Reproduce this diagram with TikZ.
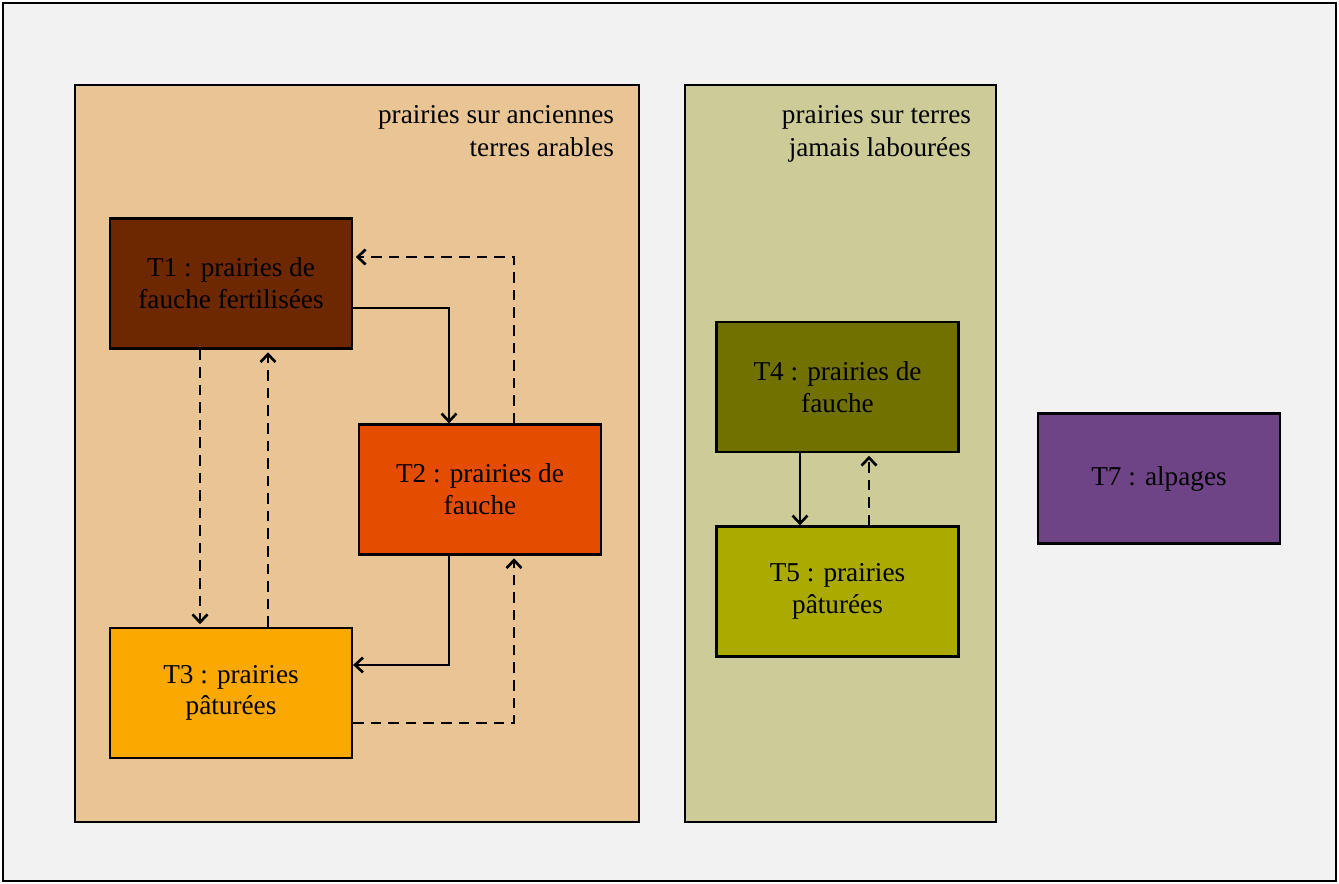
\documentclass[tikz,border=0pt]{standalone}
\usepackage{fontspec}
\setmainfont{Liberation Serif}
\usetikzlibrary{arrows.meta,calc}
\definecolor{pagegray}{HTML}{F2F2F2}
\definecolor{arabletan}{HTML}{E9C595}
\definecolor{natureolive}{HTML}{CDCC99}
\definecolor{tonebrown}{HTML}{6E2800}
\definecolor{toneorange}{HTML}{E44D00}
\definecolor{toneyellow}{HTML}{FBA900}
\definecolor{tonedarkolive}{HTML}{717100}
\definecolor{tonelightolive}{HTML}{AAAA00}
\definecolor{tonepurple}{HTML}{6F4486}

\begin{document}
\begin{tikzpicture}[
            x=0.02cm, y=-0.02cm, line width=1.3pt,
            typebox/.style={draw, minimum width=242*0.02cm, minimum height=130*0.02cm,
                align=center, font=\fontsize{15.5}{18}\selectfont},
            panel/.style={draw},
            panellabel/.style={anchor=north east, align=right, font=\fontsize{15.5}{19}\selectfont},
            flow/.style={draw, line width=1.5pt, -{Straight Barb[length=4.5pt,width=8.5pt]}},
            backflow/.style={flow, dash pattern=on 6pt off 4pt, shorten >=1.5pt}
            ]
            \useasboundingbox (0,0) rectangle (1339,884);
            \draw[fill=pagegray] (3,3) rectangle (1336,881);
            % the two groups of grasslands
            \draw[panel, fill=arabletan] (75,85) rectangle (639,822);
            \draw[panel, fill=natureolive] (685,85) rectangle (996,822);
            \node[panellabel] (arable) at (621,98) {prairies sur anciennes\\terres arables};
            \node[panellabel] (nature) at (978,98) {prairies sur terres\\jamais labourées};
            % the grassland types
            \node[typebox, fill=tonebrown] (t1) at (231,283.5) {T1 : prairies de\\fauche fertilisées};
            \node[typebox, fill=toneorange] (t2) at (480,489.5) {T2 : prairies de\\fauche};
            \node[typebox, fill=toneyellow] (t3) at (231,693) {T3 : prairies\\pâturées};
            \node[typebox, fill=tonedarkolive] (t4) at (837.5,387) {T4 : prairies de\\fauche};
            \node[typebox, fill=tonelightolive] (t5) at (837.5,591.5) {T5 : prairies\\pâturées};
            \node[typebox, fill=tonepurple] (t7) at (1159,478.5) {T7 : alpages};
            % transitions
            \draw[flow] ($(t1.east)+(0,24.5)$) -| ($(t2.north)+(-31,0)$);
            \draw[backflow] ($(t2.north)+(34,0)$) |- ($(t1.east)+(0,-26.5)$);
            \draw[backflow] ($(t1.south)+(-31,0)$) -- ($(t3.north)+(-31,0)$);
            \draw[backflow] ($(t3.north)+(37,0)$) -- ($(t1.south)+(37,0)$);
            \draw[flow] ($(t2.south)+(-31,0)$) |- ($(t3.east)+(0,-28)$);
            \draw[backflow] ($(t3.east)+(0,30)$) -| ($(t2.south)+(34,0)$);
            \draw[flow] ($(t4.south)+(-37.5,0)$) -- ($(t5.north)+(-37.5,0)$);
            \draw[backflow] ($(t5.north)+(31.5,0)$) -- ($(t4.south)+(31.5,0)$);
        \end{tikzpicture}
\end{document}
